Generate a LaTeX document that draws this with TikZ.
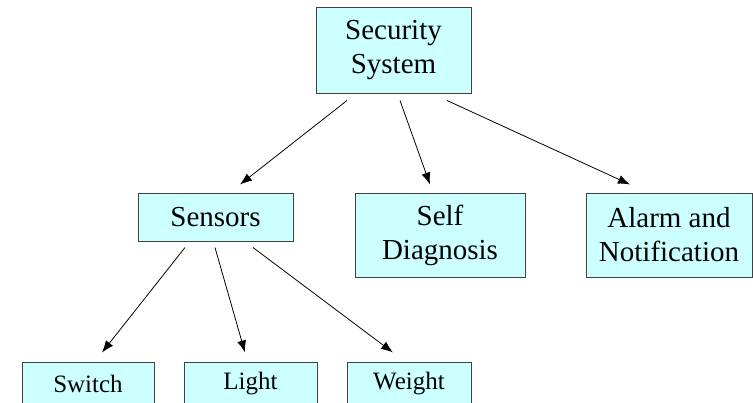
\documentclass[tikz,border=0pt]{standalone}
\usepackage{fontspec}
\setmainfont{Liberation Serif}
\usepackage{xcolor}
\usepackage{tikz}
\usetikzlibrary{arrows.meta}
\definecolor{boxcyan}{HTML}{CCFFFF}

\begin{document}
\begin{tikzpicture}[x=1pt,y=-1pt,
    box/.style={draw=black!75,line width=1pt,fill=boxcyan,align=center,inner sep=0pt,
        font=\fontsize{29}{34}\selectfont},
    leafbox/.style={box,minimum height=44pt,font=\fontsize{25}{29}\selectfont},
    link/.style={-{Latex[length=12pt,width=9pt]},line width=0.8pt}]
    \useasboundingbox (0,0) rectangle (753,402);
    \clip (0,0) rectangle (753,402);

    % top level
    \node[box,minimum width=155pt,minimum height=86pt] (sec) at (393.5,50) {Security\\System};

    % second level
    \node[box,minimum width=155pt,minimum height=48pt] (sens) at (215.5,217) {Sensors};
    \node[box,minimum width=170pt,minimum height=84pt] (diag) at (440,235) {Self\\Diagnosis};
    \node[box,minimum width=166pt,minimum height=84pt] (alarm) at (669,235) {Alarm and\\Notification};

    % sensor kinds (cut off at the bottom)
    \node[leafbox,minimum width=132pt] (switch) at (88,384) {Switch};
    \node[leafbox,minimum width=133pt] (light) at (250.5,384) {Light};
    \node[leafbox,minimum width=124pt] (weight) at (409,384) {Weight};

    \draw[link] ([xshift=-46.5pt,yshift=-7pt]sec.south) -- ([xshift=24.5pt,yshift=8pt]sens.north);
    \draw[link] ([xshift=6.5pt,yshift=-7pt]sec.south) -- ([xshift=-10pt,yshift=8pt]diag.north);
    \draw[link] ([xshift=53.5pt,yshift=-7pt]sec.south) -- ([xshift=-39pt,yshift=8pt]alarm.north);

    \draw[link] ([xshift=-30.5pt,yshift=-6pt]sens.south) -- ([xshift=14pt,yshift=9pt]switch.north);
    \draw[link] ([xshift=-0.5pt,yshift=-6pt]sens.south) -- ([xshift=-5.5pt,yshift=9pt]light.north);
    \draw[link] ([xshift=37.5pt,yshift=-6pt]sens.south) -- ([xshift=-16pt,yshift=9pt]weight.north);
\end{tikzpicture}
\end{document}
